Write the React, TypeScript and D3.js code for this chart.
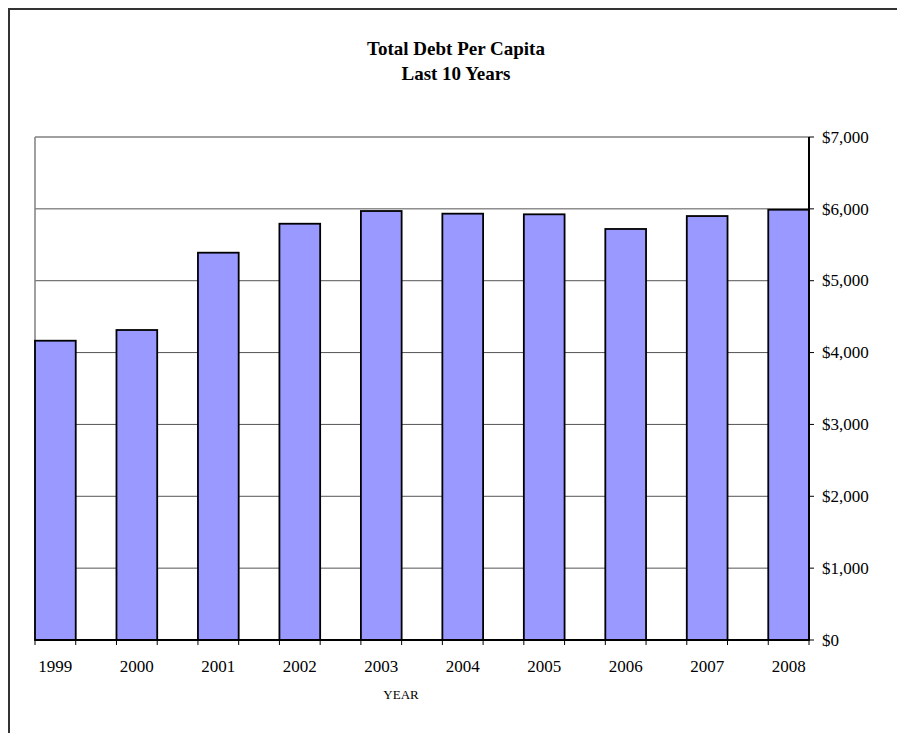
import React from "react";
import * as d3 from "d3";

const years = ["1999", "2000", "2001", "2002", "2003", "2004", "2005", "2006", "2007", "2008"];
const debtPerCapita = [4165, 4314, 5390, 5793, 5970, 5933, 5924, 5720, 5900, 5988];
const yTicks = [0, 1000, 2000, 3000, 4000, 5000, 6000, 7000];
const titleLines = ["Total Debt Per Capita", "Last 10 Years"];
const xAxisTitle = "YEAR";

const W = 897;
const H = 733;
const plot = { left: 35, right: 809, top: 137, bottom: 640 };
const FONT = '"Liberation Serif", "Times New Roman", Times, serif';

export default function App() {
  const x = d3
    .scaleBand<string>()
    .domain(years)
    .range([plot.left, plot.right])
    .paddingInner(0.5)
    .paddingOuter(0);
  const y = d3.scaleLinear().domain([0, 7000]).range([plot.bottom, plot.top]);
  const fmt = (v: number) => "$" + d3.format(",")(v);

  const bw = x.bandwidth();
  const tickXs: number[] = [];
  years.forEach((yr) => {
    tickXs.push(x(yr)!);
    tickXs.push(x(yr)! + bw);
  });

  return (
    <div style={{ position: "absolute", left: 0, top: 0 }}>
      <svg width={W} height={H} style={{ display: "block", background: "#fff" }}>
        {/* outer chart border (clipped at right/bottom) */}
        <rect x={9} y={9} width={920} height={760} fill="none" stroke="#333" strokeWidth={2} />

        {/* title */}
        {titleLines.map((t, i) => (
          <text
            key={t}
            x={456}
            y={55 + i * 25}
            textAnchor="middle"
            fontFamily={FONT}
            fontWeight="bold"
            fontSize={19}
            fill="#000"
          >
            {t}
          </text>
        ))}

        {/* gridlines */}
        {yTicks
          .filter((v) => v > 0 && v < 7000)
          .map((v) => (
            <line
              key={v}
              x1={plot.left}
              x2={plot.right}
              y1={y(v)}
              y2={y(v)}
              stroke="#555"
              strokeWidth={1}
            />
          ))}

        {/* plot border top & left */}
        <line x1={plot.left} x2={plot.right} y1={plot.top} y2={plot.top} stroke="#808080" strokeWidth={1.5} />
        <line x1={plot.left} x2={plot.left} y1={plot.top} y2={plot.bottom} stroke="#808080" strokeWidth={1.5} />

        {/* bars */}
        {years.map((yr, i) => (
          <rect
            key={yr}
            x={x(yr)!}
            y={y(debtPerCapita[i])}
            width={bw}
            height={y(0) - y(debtPerCapita[i])}
            fill="#9999FF"
            stroke="#000"
            strokeWidth={1.8}
          />
        ))}

        {/* x axis */}
        <line x1={plot.left} x2={plot.right} y1={plot.bottom} y2={plot.bottom} stroke="#000" strokeWidth={2} />
        {tickXs.map((tx, i) => (
          <line key={i} x1={tx} x2={tx} y1={plot.bottom} y2={plot.bottom + 5} stroke="#000" strokeWidth={1} />
        ))}
        {years.map((yr) => (
          <text
            key={yr}
            x={x(yr)! + bw / 2}
            y={672}
            textAnchor="middle"
            fontFamily={FONT}
            fontSize={17}
            fill="#000"
          >
            {yr}
          </text>
        ))}
        <text x={401} y={699} textAnchor="middle" fontFamily={FONT} fontSize={13} fill="#000">
          {xAxisTitle}
        </text>

        {/* right y axis */}
        <line x1={plot.right} x2={plot.right} y1={plot.top} y2={plot.bottom} stroke="#000" strokeWidth={2} />
        {yTicks.map((v) => (
          <g key={v}>
            <line x1={plot.right} x2={plot.right + 5} y1={y(v)} y2={y(v)} stroke="#000" strokeWidth={1} />
            <text x={822} y={y(v) + 5.7} fontFamily={FONT} fontSize={17} fill="#000">
              {fmt(v)}
            </text>
          </g>
        ))}
      </svg>
    </div>
  );
}
